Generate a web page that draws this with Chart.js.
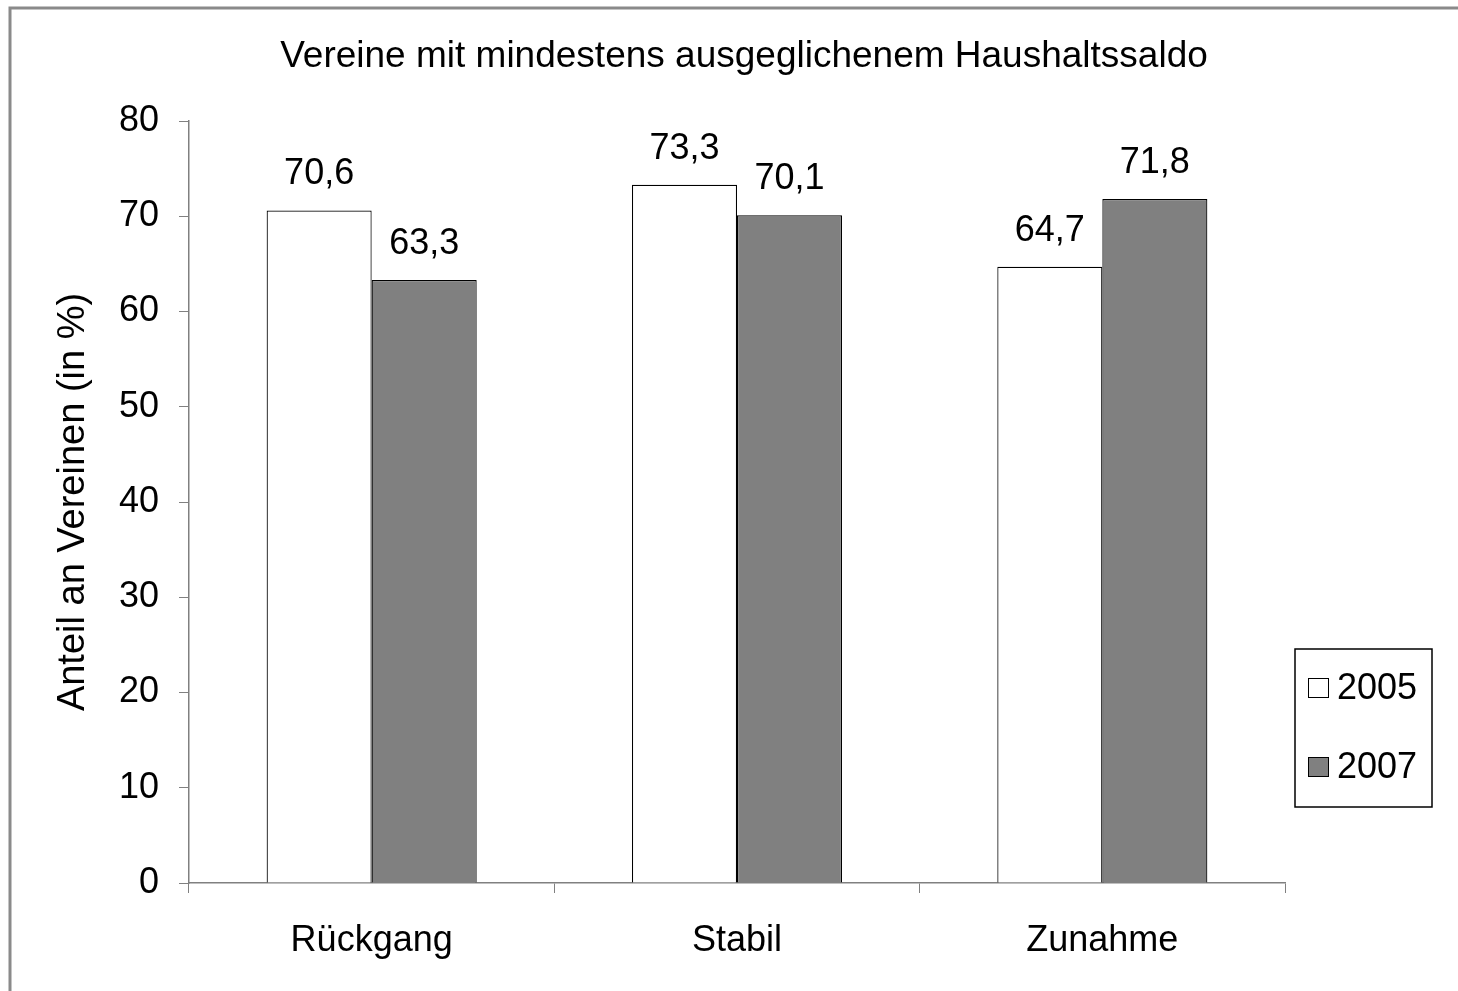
<!DOCTYPE html>
<html>
<head>
<meta charset="utf-8">
<script src="https://cdn.jsdelivr.net/npm/chart.js@4"></script>
<style>
  html, body { margin: 0; padding: 0; background: #fff; }
  #wrap { position: relative; width: 1458px; height: 991px; }
</style>
</head>
<body>
<div id="wrap"><canvas id="chart" width="1458" height="991"></canvas></div>
<script>
const categories = ["Rückgang", "Stabil", "Zunahme"];
const years = ["2005", "2007"];
const values2005 = [70.6, 73.3, 64.7];
const values2007 = [63.3, 70.1, 71.8];
const yTicks = [0, 10, 20, 30, 40, 50, 60, 70, 80];

const FONT = "'Liberation Sans', Arial, sans-serif";
const fmt = (v) => v.toFixed(1).replace(".", ",");

// Rahmen oben/links, Titel, Wertebeschriftung, Legendenkasten
const decor = {
  id: "decor",
  beforeDraw(chart) {
    const ctx = chart.ctx;
    ctx.save();
    ctx.fillStyle = "#fff";
    ctx.fillRect(0, 0, chart.width, chart.height);
    ctx.strokeStyle = "#8a8a8a";
    ctx.lineWidth = 3;
    ctx.beginPath();
    ctx.moveTo(10, chart.height);
    ctx.lineTo(10, 8);
    ctx.lineTo(chart.width, 8);
    ctx.stroke();
    ctx.restore();
  },
  afterDraw(chart) {
    const ctx = chart.ctx;
    ctx.save();
    ctx.fillStyle = "#000";
    ctx.font = `37px ${FONT}`;
    ctx.textAlign = "center";
    ctx.textBaseline = "middle";
    ctx.fillText("Vereine mit mindestens ausgeglichenem Haushaltssaldo", 744, 57);

    ctx.font = `36px ${FONT}`;
    chart.data.datasets.forEach((ds, i) => {
      chart.getDatasetMeta(i).data.forEach((bar, j) => {
        ctx.fillText(fmt(ds.data[j]), bar.x, bar.y - 36);
      });
    });

    // Legende
    const lx = 1295, ly = 649, lw = 137, lh = 158;
    ctx.strokeStyle = "#000";
    ctx.lineWidth = 1.5;
    ctx.strokeRect(lx, ly, lw, lh);
    ctx.textAlign = "left";
    ctx.font = `36px ${FONT}`;
    chart.data.datasets.forEach((ds, i) => {
      const cy = ly + 39 + i * 79;
      ctx.fillStyle = ds.backgroundColor;
      ctx.fillRect(lx + 13, cy - 10, 21, 20);
      ctx.strokeStyle = "#000";
      ctx.lineWidth = 1;
      ctx.strokeRect(lx + 13.5, cy - 9.5, 20, 19);
      ctx.fillStyle = "#000";
      ctx.fillText(ds.label, lx + 42, cy + 1);
    });
    ctx.restore();
  },
};

new Chart(document.getElementById("chart"), {
  type: "bar",
  data: {
    labels: categories,
    datasets: [
      { label: years[0], data: values2005, backgroundColor: "#ffffff", borderColor: "#000", borderWidth: 1.2 },
      { label: years[1], data: values2007, backgroundColor: "#808080", borderColor: "#000", borderWidth: 1.2 },
    ],
  },
  options: {
    responsive: false,
    animation: false,
    datasets: { bar: { categoryPercentage: 0.575, barPercentage: 1.0 } },
    layout: { padding: { top: 121, right: 173, bottom: 0, left: 50 } },
    plugins: {
      legend: { display: false },
      title: { display: false },
      tooltip: { enabled: false },
    },
    scales: {
      x: {
        offset: true,
        grid: { offset: true, drawOnChartArea: false, drawTicks: true, tickLength: 10, color: "#808080" },
        border: { display: true, color: "#808080", width: 1.5 },
        ticks: { color: "#000", font: { family: FONT, size: 36 }, padding: 26 },
        afterFit: (s) => { s.height = 108; },
      },
      y: {
        min: 0,
        max: 80,
        afterBuildTicks: (s) => { s.ticks = yTicks.map((v) => ({ value: v })); },
        grid: { drawOnChartArea: false, drawTicks: true, tickLength: 10, color: "#808080" },
        border: { display: true, color: "#808080", width: 1.5 },
        ticks: { color: "#000", font: { family: FONT, size: 36 }, padding: 20 },
        title: {
          display: true,
          text: "Anteil an Vereinen (in %)",
          color: "#000",
          font: { family: FONT, size: 38 },
          padding: { top: 1, bottom: 0 },
        },
        afterFit: (s) => { s.width = 139; },
      },
    },
  },
  plugins: [decor],
});
</script>
</body>
</html>
